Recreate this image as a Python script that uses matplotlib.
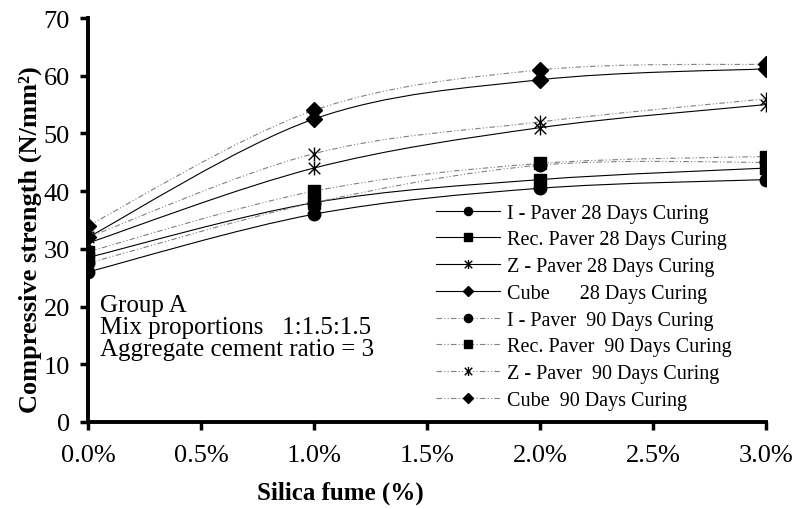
import numpy as np
import matplotlib.pyplot as plt
from matplotlib.path import Path
from matplotlib.patches import PathPatch
from matplotlib.lines import Line2D

plt.rcParams['font.family'] = ['Liberation Serif', 'DejaVu Serif']

# silica fume content (%)
silica = [0.0, 1.0, 2.0, 3.0]

# compressive strength (N/mm2)
i_paver_28 = [26.0, 36.0, 40.5, 42.0]
rec_paver_28 = [28.5, 38.0, 42.0, 44.0]
z_paver_28 = [31.0, 44.0, 51.0, 55.0]
cube_28 = [32.0, 52.5, 59.3, 61.2]
i_paver_90 = [27.5, 38.0, 44.5, 45.0]
rec_paver_90 = [29.5, 40.0, 44.8, 46.0]
z_paver_90 = [32.0, 46.5, 52.0, 56.0]
cube_90 = [34.0, 54.0, 61.0, 62.0]

labels = ["I - Paver 28 Days Curing",
          "Rec. Paver 28 Days Curing",
          "Z - Paver 28 Days Curing",
          "Cube      28 Days Curing",
          "I - Paver  90 Days Curing",
          "Rec. Paver  90 Days Curing",
          "Z - Paver  90 Days Curing",
          "Cube  90 Days Curing"]

# asterisk marker like the excel "star" (X plus vertical bar)
star = Path([(-1, -1), (1, 1), (-1, 1), (1, -1), (0, -1.2), (0, 1.2)],
            [Path.MOVETO, Path.LINETO, Path.MOVETO, Path.LINETO, Path.MOVETO, Path.LINETO])


def smooth_path(x, y):
    """Excel style smoothed line: cubic bezier through the data points."""
    pts = np.column_stack([x, y])
    verts = [pts[0]]
    codes = [Path.MOVETO]
    n = len(pts)
    for i in range(n - 1):
        p0 = pts[max(i - 1, 0)]
        p1 = pts[i]
        p2 = pts[i + 1]
        p3 = pts[min(i + 2, n - 1)]
        c1 = p1 + (p2 - p0) / 6.0
        c2 = p2 - (p3 - p1) / 6.0
        verts += [c1, c2, p2]
        codes += [Path.CURVE4] * 3
    return Path(verts, codes)


fig = plt.figure(figsize=(7.92, 5.10), dpi=100)
ax = fig.add_axes([0.111, 0.1706, 0.856, 0.7921])

solid = dict(color='black', lw=0.8, ls='-')
dashed = dict(color='#808080', lw=0.8, ls=(0, (5, 2, 1, 2, 1, 2)))

series = [
    (i_paver_28, 'o', 9, solid),
    (rec_paver_28, 's', 9, solid),
    (z_paver_28, star, 10, solid),
    (cube_28, 'D', 8, solid),
    (i_paver_90, 'o', 9, dashed),
    (rec_paver_90, 's', 9, dashed),
    (z_paver_90, star, 10, dashed),
    (cube_90, 'D', 8, dashed),
]

handles = []
for (vals, mk, ms, style), lab in zip(series, labels):
    patch = PathPatch(smooth_path(silica, vals), fill=False, edgecolor=style['color'],
                      lw=style['lw'], ls=style['ls'], zorder=2)
    ax.add_patch(patch)
    ax.plot(silica, vals, ls='none', marker=mk, ms=ms, color='black',
            mec='black', mew=1.0, zorder=3)
    handles.append(Line2D([], [], marker=mk, ms=ms * 0.65, color=style['color'],
                          mfc='black', mec='black', lw=style['lw'], ls=style['ls']))

ax.set_xlim(0, 3.0)
ax.set_ylim(0, 70)
ax.set_xticks([0, 0.5, 1.0, 1.5, 2.0, 2.5, 3.0])
ax.set_xticklabels(['0.0%', '0.5%', '1.0%', '1.5%', '2.0%', '2.5%', '3.0%'])
ax.set_yticks(range(0, 71, 10))
ax.tick_params(labelsize=19, width=2.5, length=6, direction='out')
ax.tick_params(axis='x', pad=10)
ax.tick_params(axis='y', pad=7)

for s in ['top', 'right']:
    ax.spines[s].set_visible(False)
for s in ['left', 'bottom']:
    ax.spines[s].set_linewidth(2.8)

ax.set_xlabel('Silica fume (%)', fontsize=18, fontweight='bold')
ax.xaxis.set_label_coords(0.372, -0.145)
ax.set_ylabel('Compressive strength (N/mm²)', fontsize=19, fontweight='bold')
ax.yaxis.set_label_coords(-0.068, 0.455)

ax.text(0.018, 0.235, 'Group A\nMix proportions   1:1.5:1.5\nAggregate cement ratio = 3',
        transform=ax.transAxes, fontsize=18, va='center', ha='left', linespacing=1.0)

ax.legend(handles, labels, loc='lower left', bbox_to_anchor=(0.501, 0.01),
          frameon=False, fontsize=14.5, handlelength=3.2, handletextpad=0.35,
          labelspacing=0.38, borderaxespad=0)

fig.savefig('out.png', dpi=100)
